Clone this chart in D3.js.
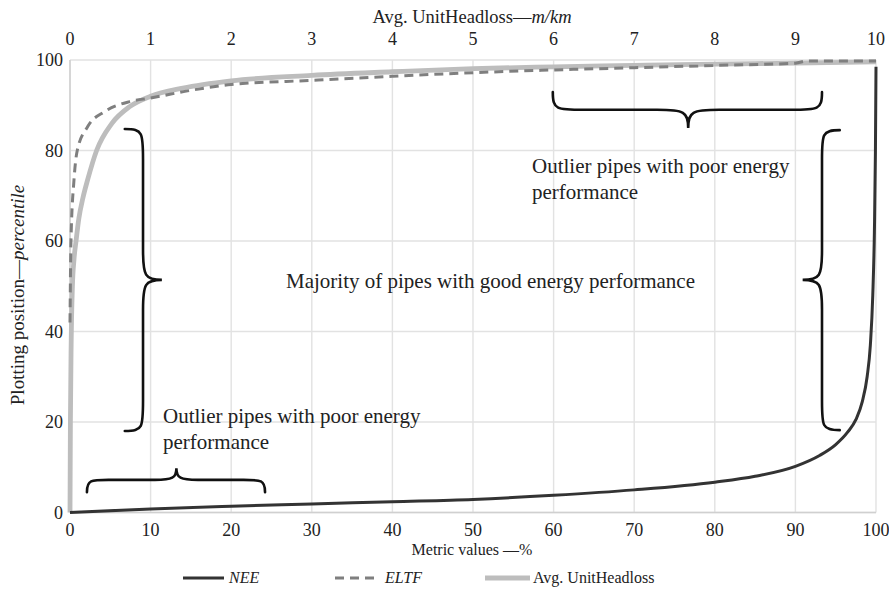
<!DOCTYPE html>
<html><head><meta charset="utf-8">
<script src="https://cdn.jsdelivr.net/npm/d3@7"></script>
<style>
body{margin:0;background:#fff;}
text{font-family:"Liberation Serif","Times New Roman",serif;fill:#222;}
</style></head>
<body><svg id="c" width="889" height="596"></svg>
<script>
// Bottom axis: Metric values (%) ; top axis: Avg. UnitHeadloss (m/km)
const bottomTicks = [0,10,20,30,40,50,60,70,80,90,100];
const topTicks = [0,1,2,3,4,5,6,7,8,9,10];
const leftTicks = [0,20,40,60,80,100];

// NEE (bottom axis)
const neeX = [0,10,20,30,40,50,60,70,80,85,90,93,95,96.5,97.5,98.3,98.9,99.3,99.6,99.8,99.93,100];
const neeY = [0,0.8,1.4,1.9,2.4,2.9,3.8,5.0,6.7,8.0,10.2,12.6,15,17.8,20.5,24.5,30,37,48,62,80,98.5];
// ELTF (top axis scale)
const eltfX = [0,0.012,0.05,0.09,0.22,0.43,0.74,1.0,1.5,2,3,4,5,6,7,8,9,9.15,10];
const eltfY = [42,60,73.6,80,85.3,88.6,90.8,91.6,93.3,94.6,95.5,96.4,97.2,97.8,98.3,98.8,99.3,99.8,99.8];
// Avg. UnitHeadloss (top axis)
const avgX = [0,0.005,0.015,0.03,0.05,0.075,0.11,0.16,0.22,0.33,0.52,0.74,1.0,1.4,2,3,4,5,6,7,8,9,10];
const avgY = [0,20,38,50,56,60,65,69.5,73.6,80,86,89.7,92,93.8,95.4,96.6,97.4,98.1,98.5,98.8,99.1,99.3,99.6];

const svg = d3.select("#c");
const x = d3.scaleLinear().domain([0,100]).range([70,876]);
const xt = d3.scaleLinear().domain([0,10]).range([70,876]);
const y = d3.scaleLinear().domain([0,100]).range([512.5,60]);

// grid
const g = svg.append("g");
g.selectAll(".vg").data(bottomTicks).join("line")
  .attr("x1",d=>x(d)).attr("x2",d=>x(d)).attr("y1",y(100)).attr("y2",y(0))
  .attr("stroke","#e2e2e2").attr("stroke-width",1.4);
g.selectAll(".hg").data(leftTicks).join("line")
  .attr("x1",x(0)).attr("x2",x(100)).attr("y1",d=>y(d)).attr("y2",d=>y(d))
  .attr("stroke","#e2e2e2").attr("stroke-width",1.4);
g.append("line").attr("x1",x(0)).attr("x2",x(100)).attr("y1",y(0)).attr("y2",y(0))
  .attr("stroke","#d0d0d0").attr("stroke-width",1.5);
g.append("line").attr("x1",x(0)).attr("x2",x(0)).attr("y1",y(0)).attr("y2",y(100))
  .attr("stroke","#cfcfcf").attr("stroke-width",1.5);

// axes labels
svg.append("g").selectAll("text").data(bottomTicks).join("text")
  .attr("x",d=>x(d)).attr("y",536).attr("text-anchor","middle").attr("font-size",18).text(d=>d);
svg.append("g").selectAll("text").data(topTicks).join("text")
  .attr("x",d=>xt(d)).attr("y",45).attr("text-anchor","middle").attr("font-size",18).text(d=>d);
svg.append("g").selectAll("text").data(leftTicks).join("text")
  .attr("x",63).attr("y",d=>y(d)+6).attr("text-anchor","end").attr("font-size",18).text(d=>d);

const tt = svg.append("text").attr("x",472).attr("y",23).attr("text-anchor","middle").attr("font-size",18.5);
tt.append("tspan").text("Avg. UnitHeadloss—");
tt.append("tspan").attr("font-style","italic").text("m/km");

const yl = svg.append("text").attr("transform","translate(24,295) rotate(-90)").attr("text-anchor","middle").attr("font-size",19);
yl.append("tspan").text("Plotting position—");
yl.append("tspan").attr("font-style","italic").text("percentile");

svg.append("text").attr("x",472).attr("y",555).attr("text-anchor","middle").attr("font-size",16).text("Metric values —%");

// series
const line = d3.line().curve(d3.curveMonotoneX);
svg.append("path").attr("d",line(avgX.map((v,i)=>[xt(v),y(avgY[i])])))
  .attr("fill","none").attr("stroke","#bdbdbd").attr("stroke-width",4.8);
svg.append("path").attr("d",line(eltfX.map((v,i)=>[xt(v),y(eltfY[i])])))
  .attr("fill","none").attr("stroke","#7f7f7f").attr("stroke-width",3).attr("stroke-dasharray","9,6");
svg.append("path").attr("d",line(neeX.map((v,i)=>[x(v),y(neeY[i])])))
  .attr("fill","none").attr("stroke","#333").attr("stroke-width",3);

// braces (data coordinates, bottom axis / percentile)
function vBrace(xe, xs, xtip, yt, ytip, yb){
  const X=x(xe), S=x(xs), T=x(xtip), A=y(yt), M=y(ytip), B=y(yb);
  const r=Math.abs(S-X)*1.1, d=Math.sign(T-S);
  return `M${X},${A} C${S},${A} ${S},${A+4} ${S},${A+r*1.5} L${S},${M-r*1.5} C${S},${M-4} ${S+d*2},${M} ${T},${M}`+
         ` C${S+d*2},${M} ${S},${M+4} ${S},${M+r*1.5} L${S},${B-r*1.5} C${S},${B-4} ${S},${B} ${X},${B}`;
}
function hBrace(xl, xtip, xr, ye, ys, ytip){
  const L=x(xl), T=x(xtip), R=x(xr), E=y(ye), S=y(ys), P=y(ytip);
  const r=Math.abs(S-E)*1.1, d=Math.sign(P-S);
  return `M${L},${E} C${L},${S} ${L+4},${S} ${L+r*1.6},${S} L${T-r*1.6},${S} C${T-4},${S} ${T},${S+d*2} ${T},${P}`+
         ` C${T},${S+d*2} ${T+4},${S} ${T+r*1.6},${S} L${R-r*1.6},${S} C${R-4},${S} ${R},${S} ${R},${E}`;
}
const braces = [
  vBrace(6.8,9.06,11.4,84.75,51.4,18.0),
  vBrace(95.5,93.3,90.9,84.5,51.4,18.2),
  hBrace(59.9,76.7,93.3,92.9,89.0,85.0),
  hBrace(2.1,13.2,24.2,4.5,7.2,9.8)
];
svg.append("g").selectAll("path").data(braces).join("path").attr("d",d=>d)
  .attr("fill","none").attr("stroke","#111").attr("stroke-width",2.6).attr("stroke-linecap","round");

// annotation text
const ann = [
  {t:"Outlier pipes with poor energy", x:532, y:173},
  {t:"performance", x:532, y:199},
  {t:"Majority of pipes with good energy performance", x:286, y:288},
  {t:"Outlier pipes with poor energy", x:163, y:423},
  {t:"performance", x:163, y:449}
];
svg.append("g").selectAll("text").data(ann).join("text")
  .attr("x",d=>d.x).attr("y",d=>d.y).attr("font-size",21).text(d=>d.t);

// legend
const lg = svg.append("g");
lg.append("line").attr("x1",183).attr("x2",224).attr("y1",578).attr("y2",578).attr("stroke","#333").attr("stroke-width",3);
lg.append("text").attr("x",229).attr("y",583).attr("font-size",16).attr("font-style","italic").text("NEE");
lg.append("line").attr("x1",335).attr("x2",377).attr("y1",578).attr("y2",578).attr("stroke","#7f7f7f").attr("stroke-width",3).attr("stroke-dasharray","9,6");
lg.append("text").attr("x",385).attr("y",583).attr("font-size",16).attr("font-style","italic").text("ELTF");
lg.append("line").attr("x1",485).attr("x2",530).attr("y1",578).attr("y2",578).attr("stroke","#bdbdbd").attr("stroke-width",4.8);
lg.append("text").attr("x",533).attr("y",583).attr("font-size",16).text("Avg. UnitHeadloss");
</script></body></html>
